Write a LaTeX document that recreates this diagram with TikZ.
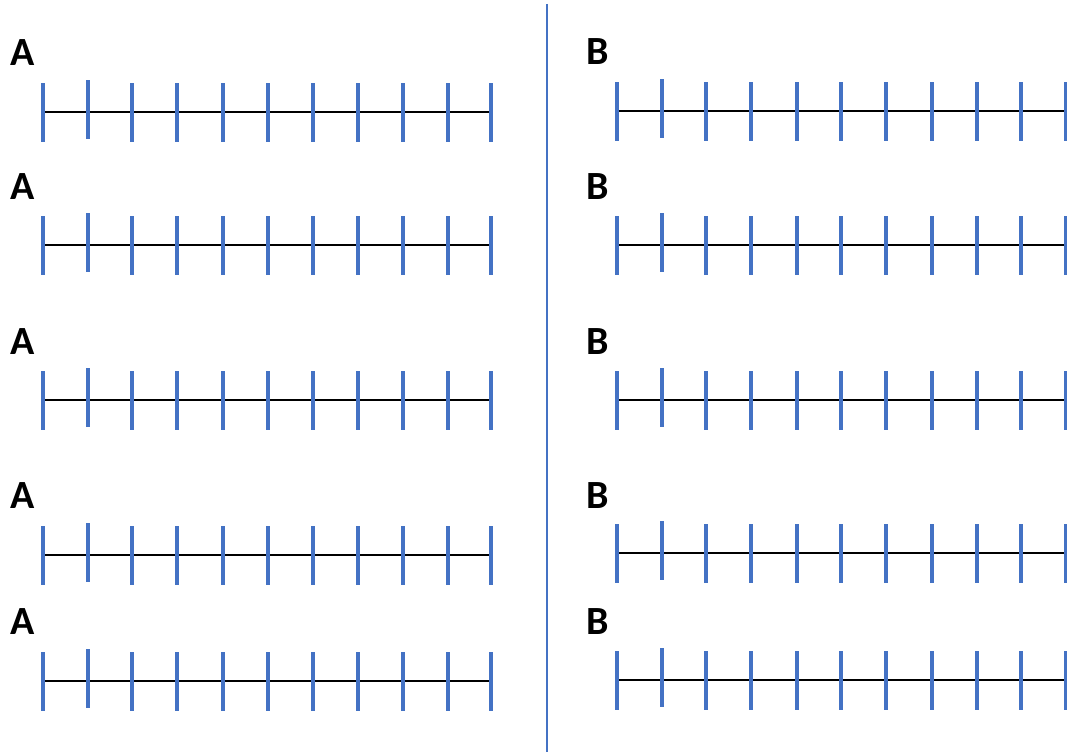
\documentclass[tikz,border=0pt]{standalone}
\usepackage{fontspec}
\setmainfont{Carlito}
\definecolor{tickblue}{HTML}{4472C4}
\begin{document}
\begin{tikzpicture}[x=1pt,y=-1pt,
  axisline/.style={draw=black,line width=2.5pt},
  tickmark/.style={draw=tickblue,line width=4.2pt},
  divider/.style={draw=tickblue,line width=1.8pt},
  rowlabel/.style={inner sep=0pt,font=\fontsize{40}{40}\selectfont\bfseries}]
\useasboundingbox (0,0) rectangle (1067,752);
% divider
\draw[divider] (547,4) -- (547,752);
% left rows
\foreach \y/\ly [count=\r] in {112/53,245/187,400/341.5,555/495.5,681/621.5}{
  \node[rowlabel] (A\r) at (22.5,\ly) {A};
  \draw[axisline] (43,\y) -- (491,\y);
  \foreach \x/\o in {43/0,88/-3,132/0,177/0,223/0,268/0,313/0,358/0,403/0,448/0,491/0}{
    \draw[tickmark] (\x,\y-29+\o) -- (\x,\y+30+\o);
  }
}
% right rows
\foreach \y/\ly [count=\r] in {111/52,245/187,400/341.5,553/495.5,680/621.5}{
  \node[rowlabel] (B\r) at (597.5,\ly) {B};
  \draw[axisline] (617,\y) -- (1067,\y);
  \foreach \x/\o in {617/0,662/-3,706/0,751/0,797/0,841/0,886/0,932/0,977/0,1021/0,1066/0}{
    \draw[tickmark] (\x,\y-29+\o) -- (\x,\y+30+\o);
  }
}
\end{tikzpicture}
\end{document}
